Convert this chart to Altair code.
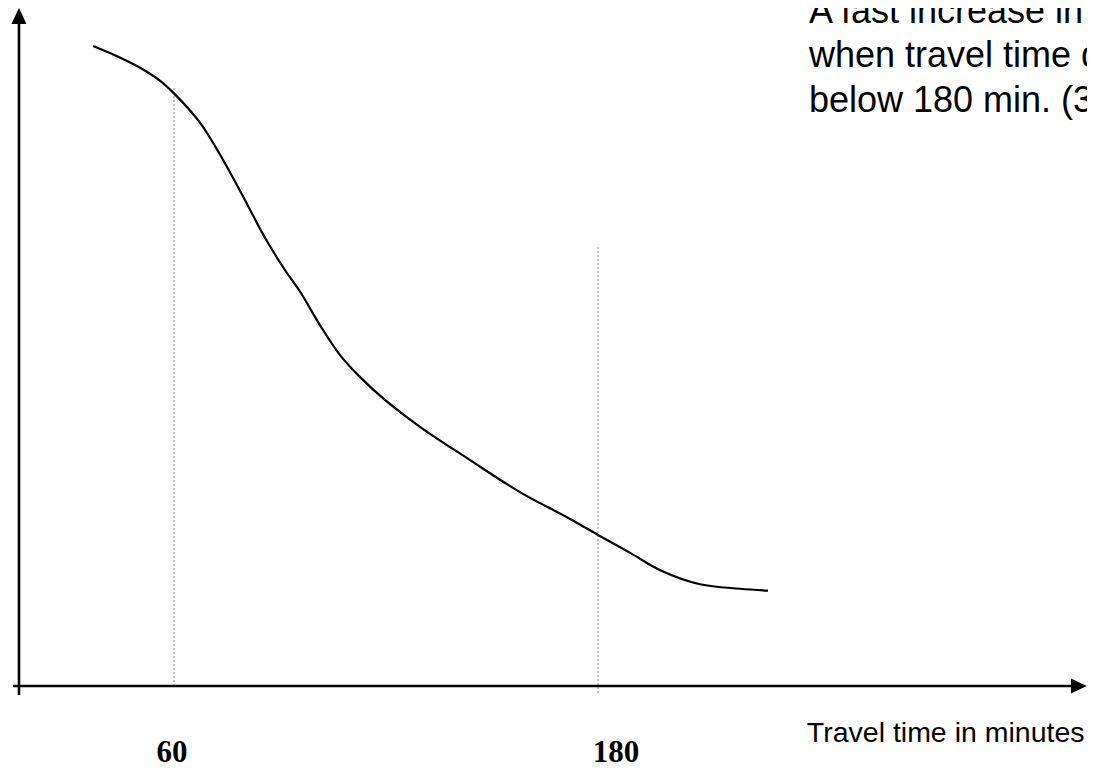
import altair as alt
import pandas as pd

# ---- data ----
# curve: travel time in minutes vs. relative level (sketch, no y units)
curve_min = [37.1, 43.9, 50.4, 56.0, 60.0, 67.4, 73.9, 80.1, 85.8, 91.4, 95.7,
             101.3, 107.0, 112.6, 119.7, 129.6, 143.8, 157.9, 172.1, 180.0,
             189.1, 197.6, 208.9, 220.2, 228.1]
curve_lvl = [100.0, 98.4, 96.6, 94.6, 92.6, 88.0, 82.2, 75.9, 70.0, 65.0, 61.6,
             56.4, 51.7, 48.3, 44.7, 40.5, 35.3, 30.3, 26.1, 23.6,
             20.8, 18.1, 15.9, 15.2, 14.9]

marker_min = [60, 180]
marker_lo = [0.0, -1.1]
marker_hi = [93.8, 68.8]
marker_labels = ["60", "180"]
marker_label_min = [59.4, 185.1]

axis_x_min, axis_x_max = 14.4, 315.0
axis_y_pos = 16.13
axis_y_lo, axis_y_hi = -1.4, 103.9
arrow_x_pos = 316.1
arrow_y_pos = 104.7

note_lines = ["A fast increase in", "when travel time decreases", "below 180 min. (3)"]
note_lvl = [103.6, 96.7, 89.7]
note_min = 239.7
xlabel = "Travel time in minutes"
xlabel_min = 239.1
xlabel_lvl = -8.75
tick_label_lvl = -11.9

# ---- scales ----
W, H = 1079, 755
xs = alt.Scale(domain=[13.019, 318.39], range=[0, W], nice=False, zero=False)
ys = alt.Scale(domain=[-12.03, 105.94], range=[H, 0], nice=False, zero=False)

curve_df = pd.DataFrame({"m": curve_min, "L": curve_lvl})
mark_df = pd.DataFrame({"m": marker_min, "lo": marker_lo, "hi": marker_hi})
lab_df = pd.DataFrame({"m": marker_label_min, "lab": marker_labels,
                       "ly": [tick_label_lvl] * 2})
note_df = pd.DataFrame({"t": note_lines, "L": note_lvl, "m": [note_min] * 3})

X = lambda f: alt.X(f, scale=xs, axis=None)
Y = lambda f: alt.Y(f, scale=ys, axis=None)

curve = alt.Chart(curve_df).mark_line(color="black", strokeWidth=2.2,
                                      interpolate="catmull-rom").encode(
    x=X("m:Q"), y=Y("L:Q"), order="m:Q")

guides = alt.Chart(mark_df).mark_rule(color="#888888", strokeWidth=1,
                                      strokeDash=[2, 2]).encode(
    x=X("m:Q"), y=Y("lo:Q"), y2="hi:Q")

yaxis = alt.Chart(pd.DataFrame({"m": [axis_y_pos], "a": [axis_y_lo], "b": [axis_y_hi]})
                  ).mark_rule(color="black", strokeWidth=2.6).encode(
    x=X("m:Q"), y=Y("a:Q"), y2="b:Q")

xaxis = alt.Chart(pd.DataFrame({"L": [0.0], "a": [axis_x_min], "b": [axis_x_max]})
                  ).mark_rule(color="black", strokeWidth=2.6).encode(
    y=Y("L:Q"), x=X("a:Q"), x2="b:Q")

yarrow = alt.Chart(pd.DataFrame({"m": [axis_y_pos], "L": [arrow_y_pos]})).mark_point(
    shape="M0,-1L0.94,1L-0.94,1Z", size=256, filled=True, color="black", opacity=1,
    strokeWidth=0).encode(x=X("m:Q"), y=Y("L:Q"))

xarrow = alt.Chart(pd.DataFrame({"m": [arrow_x_pos], "L": [0.0]})).mark_point(
    shape="M1,0L-1,-0.94L-1,0.94Z", size=256, filled=True, color="black", opacity=1,
    strokeWidth=0).encode(x=X("m:Q"), y=Y("L:Q"))

ticklabels = alt.Chart(lab_df).mark_text(
    font="Liberation Serif", fontSize=31, fontWeight="bold", color="black",
    align="center", baseline="alphabetic").encode(
    x=X("m:Q"), y=Y("ly:Q"), text="lab:N")

xlab = alt.Chart(pd.DataFrame({"m": [xlabel_min], "L": [xlabel_lvl], "t": [xlabel]})).mark_text(
    font="Liberation Sans", fontSize=28.5, color="black", align="left",
    baseline="alphabetic").encode(x=X("m:Q"), y=Y("L:Q"), text="t:N")

note = alt.Chart(note_df).mark_text(
    font="Liberation Sans", fontSize=36, color="black", align="left",
    baseline="alphabetic").encode(x=X("m:Q"), y=Y("L:Q"), text="t:N")

chart = alt.layer(guides, curve, yaxis, xaxis, yarrow, xarrow, ticklabels, xlab, note).properties(
    width=W, height=H, autosize=alt.AutoSizeParams(type="none"), padding=0,
    background="white"
).configure_view(stroke=None)

chart.save("out.html", embed_options={"renderer": "svg", "actions": False})
